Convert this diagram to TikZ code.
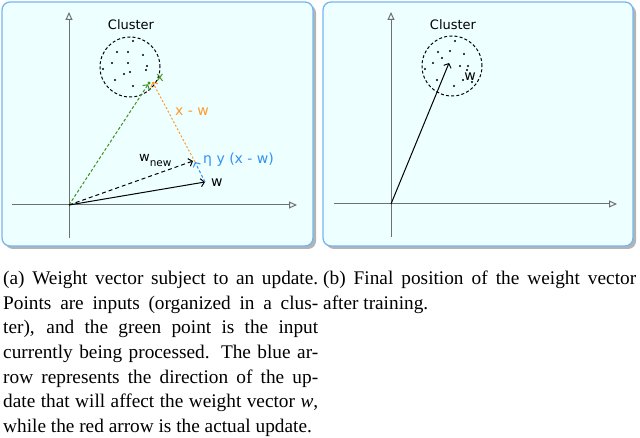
\documentclass[tikz,border=0pt]{standalone}
\usepackage{fontspec}
\setmainfont{Liberation Serif}
\newfontfamily\dvs{DejaVu Sans}
\usetikzlibrary{arrows.meta}
\definecolor{panelfill}{HTML}{EEFFFF}
\definecolor{panelborder}{HTML}{74B6F2}
\definecolor{shadowgray}{HTML}{B4B4B4}
\definecolor{axisgray}{HTML}{707070}
\definecolor{vgreen}{HTML}{3F8F1F}
\definecolor{vorange}{HTML}{FF9A2A}
\definecolor{vblue}{HTML}{3390F5}
\begin{document}
\begin{tikzpicture}[x=1pt,y=-1pt,
  panel/.style={draw=panelborder, line width=1.3pt, fill=panelfill, rounded corners=8pt},
  shadowbox/.style={fill=shadowgray, rounded corners=8pt},
  axis/.style={draw=axisgray, line width=1pt, -{Triangle[open,length=8pt,width=7pt]}},
  vec/.style={line width=1pt, -{Straight Barb[length=3.5pt,width=8pt]}},
  lbl/.style={font=\dvs\fontsize{13}{13}\selectfont, inner sep=0pt},
  biglbl/.style={font=\dvs\fontsize{14}{14}\selectfont, inner sep=0pt},
  clusterc/.style={circle, draw, line width=1pt, dash pattern=on 3pt off 2.2pt, minimum size=60pt, inner sep=0pt},
  caption/.style={anchor=base west, inner sep=0pt, font=\fontsize{19.3}{24}\selectfont},
]
\useasboundingbox (0,0) rectangle (640,438);
\fill[white] (0,0) rectangle (640,438);

% ---------- panel (a)
\fill[shadowbox] (5,5) rectangle (316,249);
\draw[panel] (2,2) rectangle (313,246);
\coordinate (oa) at (69,205);
\coordinate (ya1) at (69,238);
\coordinate (ya2) at (69,12);
\coordinate (xa1) at (12,205);
\coordinate (xa2) at (297,205);
\draw[axis] (ya1) -- (ya2);
\draw[axis] (xa1) -- (xa2);

\node[clusterc] (cla) at (130,67) {};
\node[lbl] (clablbl) at (131,25) {Cluster};
\foreach \p in {(133,41),(117,52),(128,52),(143,55),(112,63),(128,63),(147,66),(103,69),(146,70),(130,72),(124,74),(115,80),(133,86)}
  \fill \p circle (1.1pt);

\coordinate (xpt) at (149,83);
\coordinate (wa) at (205,182);
\coordinate (wn) at (193,161);
\coordinate (bt) at (195,162);
\fill[vgreen] (xpt) circle (1.6pt);
\node[lbl, text=vgreen] (xlbl) at (160,78) {x};

\draw[vec, vgreen, dash pattern=on 3pt off 2pt, shorten >=1.5pt] (oa) -- (xpt);
\draw[vec, vorange, dash pattern=on 2pt off 2pt, shorten >=1pt] (bt) -- ([xshift=3pt,yshift=2pt]xpt);
\draw[vec] (oa) -- (wa);
\draw[vec, dash pattern=on 4pt off 3pt] (oa) -- (wn);
\draw[vec, vblue, dash pattern=on 3pt off 2pt] (wa) -- (bt);

\node[biglbl, text=vorange] (xmw) at (192,112) {x - w};
\node[biglbl, text=vblue, anchor=west] (upd) at (203,160) {η y (x - w)};
\node[biglbl, anchor=west] (wlbl) at (211,183) {w};
\node[lbl, anchor=base west] (wnlbl) at (139,162) {w\raisebox{-4.5pt}{\fontsize{10.5}{10.5}\selectfont new}};

% ---------- panel (b)
\fill[shadowbox] (326,5) rectangle (636,249);
\draw[panel] (323,2) rectangle (633,246);
\coordinate (ob) at (391,204);
\coordinate (yb1) at (391,237);
\coordinate (yb2) at (391,12);
\coordinate (xb1) at (334,204);
\coordinate (xb2) at (617,204);
\draw[axis] (yb1) -- (yb2);
\draw[axis] (xb1) -- (xb2);

\node[clusterc] (clb) at (452,66) {};
\node[lbl] (clblbl) at (453,25) {Cluster};
\foreach \p in {(455,41),(438,52),(450,51),(464,54),(442,58),(433,63),(460,66),(468,66),(425,69),(467,70),(437,80),(454,86),(463,80),(472,82)}
  \fill \p circle (1.1pt);
\coordinate (wb) at (449,63);
\draw[vec] (ob) -- (wb);
\node[biglbl] (wblbl) at (470,77) {w};

% ---------- captions
\node[caption] (ca1) at (3,285) {\makebox[315pt][s]{(a) Weight vector subject to an update.}};
\node[caption] (ca2) at (3,309.5) {\makebox[315pt][s]{Points are inputs (organized in a clus-}};
\node[caption] (ca3) at (3,334) {\makebox[315pt][s]{ter), and the green point is the input}};
\node[caption] (ca4) at (3,358.5) {\makebox[315pt][s]{currently being processed. The blue ar-}};
\node[caption] (ca5) at (3,383) {\makebox[315pt][s]{row represents the direction of the up-}};
\node[caption] (ca6) at (3,407.5) {\makebox[315pt][s]{date that will affect the weight vector \textit{w},}};
\node[caption] (ca7) at (3,432) {while the red arrow is the actual update.};

\node[caption] (cb1) at (323,285) {\makebox[313pt][s]{(b) Final position of the weight vector}};
\node[caption] (cb2) at (323,309.5) {after training.};
\end{tikzpicture}
\end{document}
